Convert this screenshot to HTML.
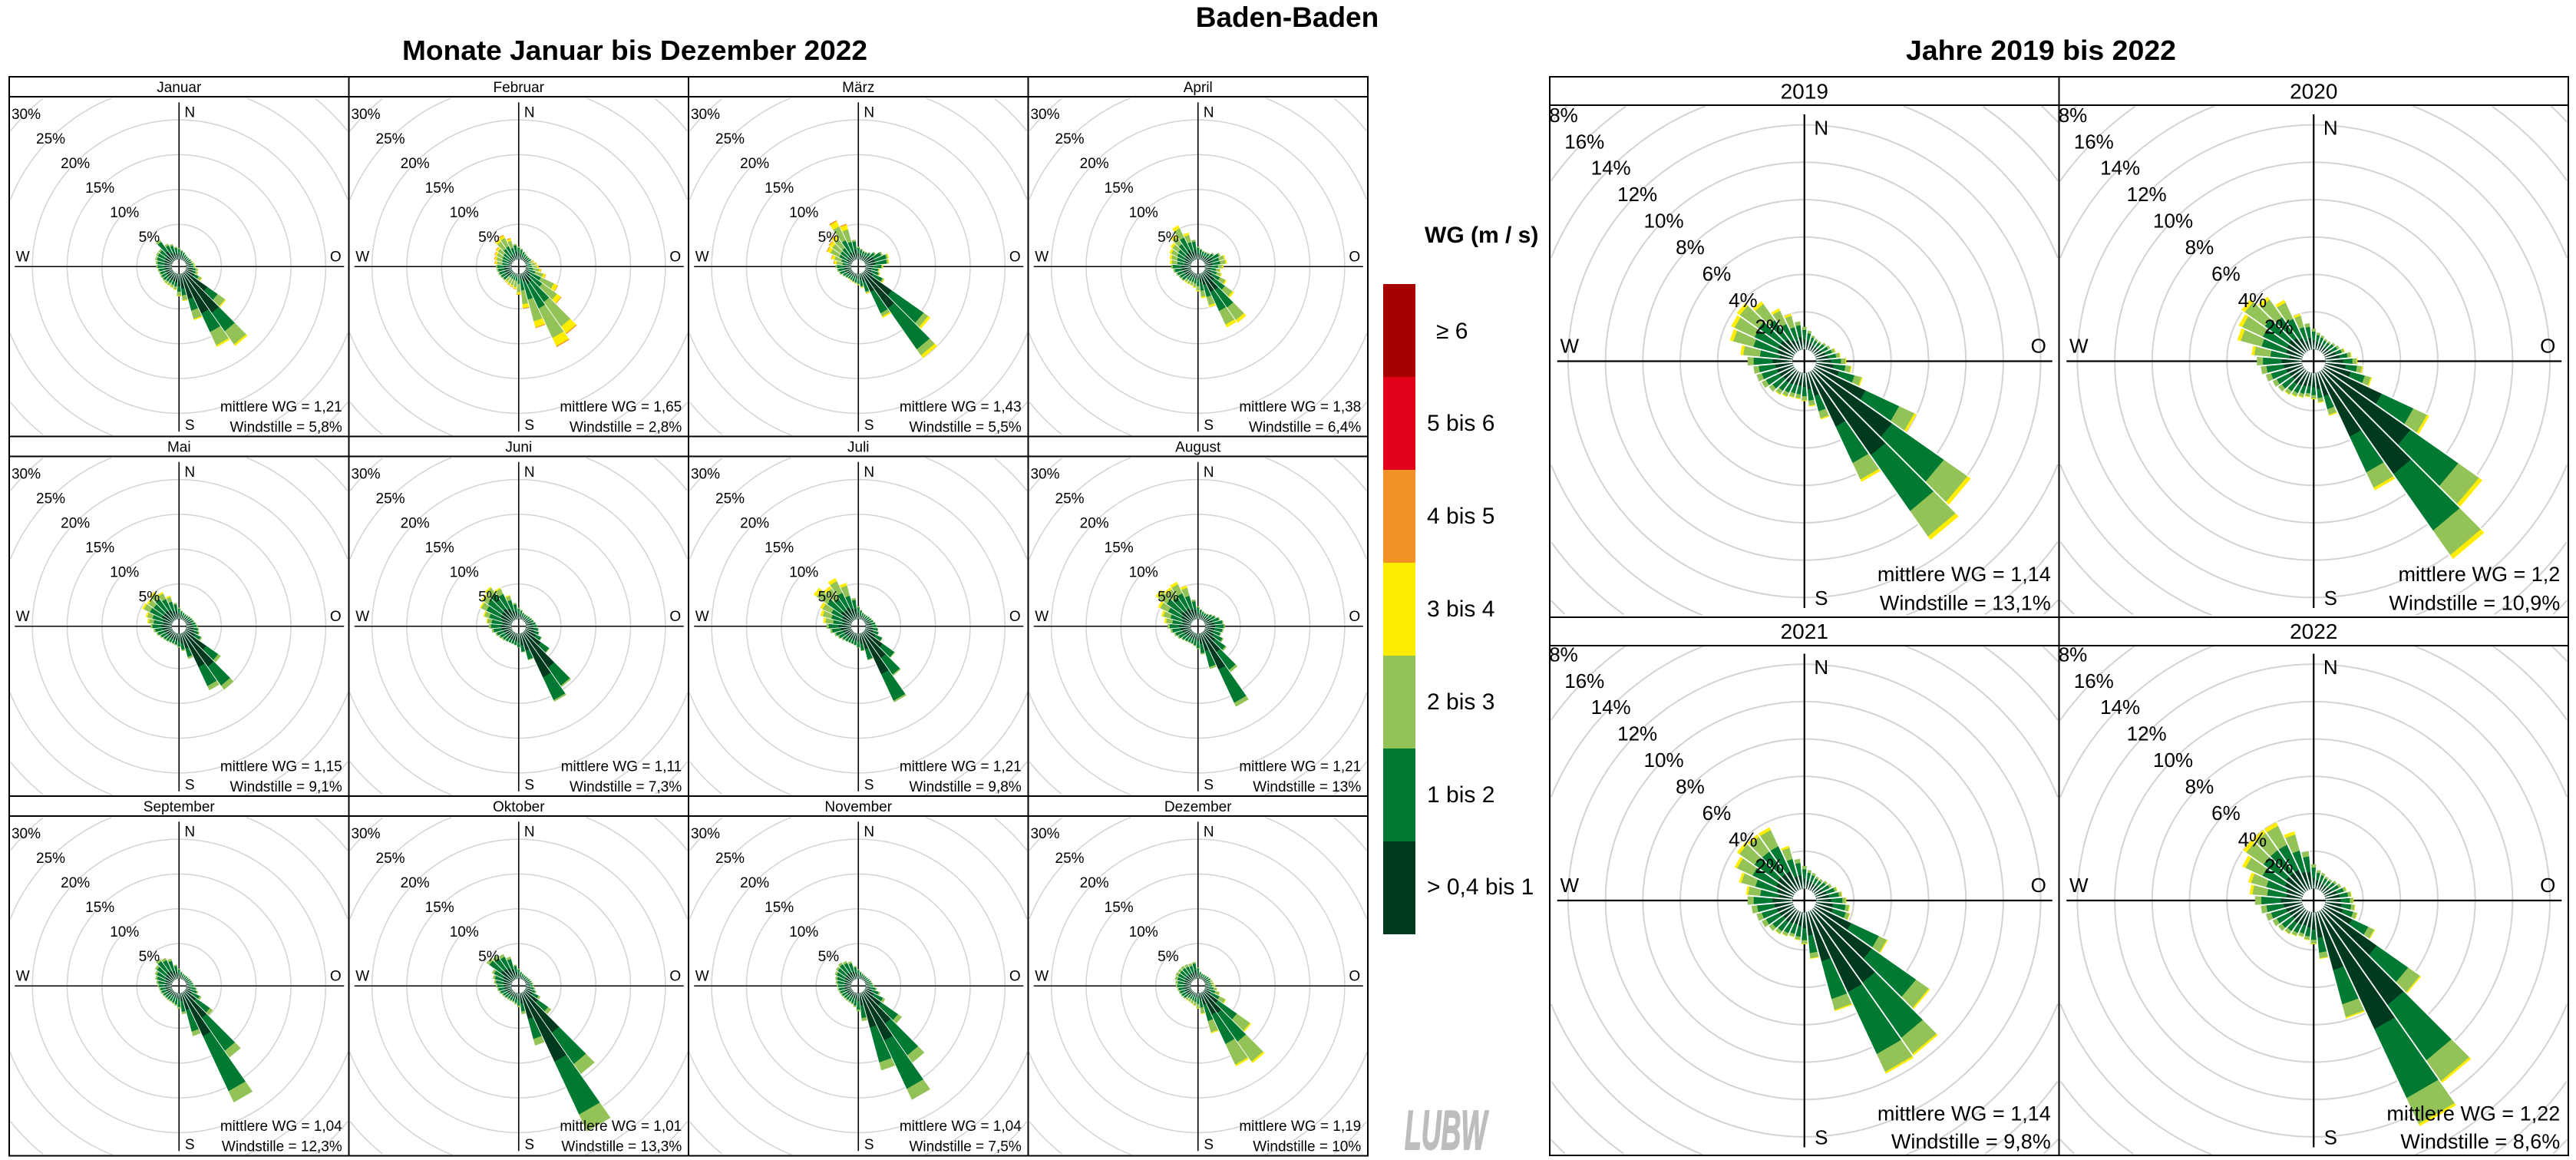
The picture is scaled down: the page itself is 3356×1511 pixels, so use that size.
<!DOCTYPE html>
<html><head><meta charset="utf-8">
<style>
html,body{margin:0;padding:0;background:#fff;width:3356px;height:1511px;overflow:hidden;}
svg{display:block;font-family:"Liberation Sans",Arial,sans-serif;}
.m text{font-size:19px;}
.y text{font-size:26px;}
.y text.st{font-size:27px;}
.y text.hd{font-size:28px;}
.c{text-anchor:middle}
.e{text-anchor:end}
.lg{font-size:30px;}
</style></head><body>
<svg id="s" xmlns="http://www.w3.org/2000/svg" width="3356" height="1511" viewBox="0 0 3356 1511" overflow="hidden">
<defs>
<clipPath id="cy"><rect x="-331.75" y="-333.5" width="663.5" height="665"/></clipPath>
</defs>
<rect width="3356" height="1511" fill="#fff"/>

<text x="1677" y="35" font-size="37" font-weight="bold" text-anchor="middle">Baden-Baden</text>
<text x="524" y="78" font-size="36" font-weight="bold" textLength="606" lengthAdjust="spacingAndGlyphs">Monate Januar bis Dezember 2022</text>
<text x="2483" y="78" font-size="36" font-weight="bold" textLength="352" lengthAdjust="spacingAndGlyphs">Jahre 2019 bis 2022</text>

<!-- Monthly panels -->
<g class="m" id="p0" transform="translate(233.25,347.25)">
<text class="c" x="0" y="-227.45">Januar</text>
<text class="c" x="-38.9" y="-32.1">5%</text><text class="c" x="-71" y="-64.2">10%</text><text class="c" x="-103.1" y="-96.3">15%</text><text class="c" x="-135.1" y="-128.3">20%</text><text class="c" x="-167.2" y="-160.4">25%</text><text class="c" x="-199.3" y="-192.5">30%</text>
<text class="c" x="14" y="-194.8">N</text><text class="c" x="14" y="212.5">S</text><text class="c" x="-203.5" y="-6.7">W</text><text class="c" x="204" y="-6.7">O</text>
<text class="e" x="212.5" y="188.5">mittlere WG = 1,21</text><text class="e" x="212.5" y="215">Windstille = 5,8%</text>
</g>
<g class="m" id="p1" transform="translate(675.75,347.25)">
<text class="c" x="0" y="-227.45">Februar</text>
<text class="c" x="-38.9" y="-32.1">5%</text><text class="c" x="-71" y="-64.2">10%</text><text class="c" x="-103.1" y="-96.3">15%</text><text class="c" x="-135.1" y="-128.3">20%</text><text class="c" x="-167.2" y="-160.4">25%</text><text class="c" x="-199.3" y="-192.5">30%</text>
<text class="c" x="14" y="-194.8">N</text><text class="c" x="14" y="212.5">S</text><text class="c" x="-203.5" y="-6.7">W</text><text class="c" x="204" y="-6.7">O</text>
<text class="e" x="212.5" y="188.5">mittlere WG = 1,65</text><text class="e" x="212.5" y="215">Windstille = 2,8%</text>
</g>
<g class="m" id="p2" transform="translate(1118.25,347.25)">
<text class="c" x="0" y="-227.45">März</text>
<text class="c" x="-38.9" y="-32.1">5%</text><text class="c" x="-71" y="-64.2">10%</text><text class="c" x="-103.1" y="-96.3">15%</text><text class="c" x="-135.1" y="-128.3">20%</text><text class="c" x="-167.2" y="-160.4">25%</text><text class="c" x="-199.3" y="-192.5">30%</text>
<text class="c" x="14" y="-194.8">N</text><text class="c" x="14" y="212.5">S</text><text class="c" x="-203.5" y="-6.7">W</text><text class="c" x="204" y="-6.7">O</text>
<text class="e" x="212.5" y="188.5">mittlere WG = 1,43</text><text class="e" x="212.5" y="215">Windstille = 5,5%</text>
</g>
<g class="m" id="p3" transform="translate(1560.75,347.25)">
<text class="c" x="0" y="-227.45">April</text>
<text class="c" x="-38.9" y="-32.1">5%</text><text class="c" x="-71" y="-64.2">10%</text><text class="c" x="-103.1" y="-96.3">15%</text><text class="c" x="-135.1" y="-128.3">20%</text><text class="c" x="-167.2" y="-160.4">25%</text><text class="c" x="-199.3" y="-192.5">30%</text>
<text class="c" x="14" y="-194.8">N</text><text class="c" x="14" y="212.5">S</text><text class="c" x="-203.5" y="-6.7">W</text><text class="c" x="204" y="-6.7">O</text>
<text class="e" x="212.5" y="188.5">mittlere WG = 1,38</text><text class="e" x="212.5" y="215">Windstille = 6,4%</text>
</g>
<g class="m" id="p4" transform="translate(233.25,815.75)">
<text class="c" x="0" y="-227.45">Mai</text>
<text class="c" x="-38.9" y="-32.1">5%</text><text class="c" x="-71" y="-64.2">10%</text><text class="c" x="-103.1" y="-96.3">15%</text><text class="c" x="-135.1" y="-128.3">20%</text><text class="c" x="-167.2" y="-160.4">25%</text><text class="c" x="-199.3" y="-192.5">30%</text>
<text class="c" x="14" y="-194.8">N</text><text class="c" x="14" y="212.5">S</text><text class="c" x="-203.5" y="-6.7">W</text><text class="c" x="204" y="-6.7">O</text>
<text class="e" x="212.5" y="188.5">mittlere WG = 1,15</text><text class="e" x="212.5" y="215">Windstille = 9,1%</text>
</g>
<g class="m" id="p5" transform="translate(675.75,815.75)">
<text class="c" x="0" y="-227.45">Juni</text>
<text class="c" x="-38.9" y="-32.1">5%</text><text class="c" x="-71" y="-64.2">10%</text><text class="c" x="-103.1" y="-96.3">15%</text><text class="c" x="-135.1" y="-128.3">20%</text><text class="c" x="-167.2" y="-160.4">25%</text><text class="c" x="-199.3" y="-192.5">30%</text>
<text class="c" x="14" y="-194.8">N</text><text class="c" x="14" y="212.5">S</text><text class="c" x="-203.5" y="-6.7">W</text><text class="c" x="204" y="-6.7">O</text>
<text class="e" x="212.5" y="188.5">mittlere WG = 1,11</text><text class="e" x="212.5" y="215">Windstille = 7,3%</text>
</g>
<g class="m" id="p6" transform="translate(1118.25,815.75)">
<text class="c" x="0" y="-227.45">Juli</text>
<text class="c" x="-38.9" y="-32.1">5%</text><text class="c" x="-71" y="-64.2">10%</text><text class="c" x="-103.1" y="-96.3">15%</text><text class="c" x="-135.1" y="-128.3">20%</text><text class="c" x="-167.2" y="-160.4">25%</text><text class="c" x="-199.3" y="-192.5">30%</text>
<text class="c" x="14" y="-194.8">N</text><text class="c" x="14" y="212.5">S</text><text class="c" x="-203.5" y="-6.7">W</text><text class="c" x="204" y="-6.7">O</text>
<text class="e" x="212.5" y="188.5">mittlere WG = 1,21</text><text class="e" x="212.5" y="215">Windstille = 9,8%</text>
</g>
<g class="m" id="p7" transform="translate(1560.75,815.75)">
<text class="c" x="0" y="-227.45">August</text>
<text class="c" x="-38.9" y="-32.1">5%</text><text class="c" x="-71" y="-64.2">10%</text><text class="c" x="-103.1" y="-96.3">15%</text><text class="c" x="-135.1" y="-128.3">20%</text><text class="c" x="-167.2" y="-160.4">25%</text><text class="c" x="-199.3" y="-192.5">30%</text>
<text class="c" x="14" y="-194.8">N</text><text class="c" x="14" y="212.5">S</text><text class="c" x="-203.5" y="-6.7">W</text><text class="c" x="204" y="-6.7">O</text>
<text class="e" x="212.5" y="188.5">mittlere WG = 1,21</text><text class="e" x="212.5" y="215">Windstille = 13%</text>
</g>
<g class="m" id="p8" transform="translate(233.25,1284.25)">
<text class="c" x="0" y="-227.45">September</text>
<text class="c" x="-38.9" y="-32.1">5%</text><text class="c" x="-71" y="-64.2">10%</text><text class="c" x="-103.1" y="-96.3">15%</text><text class="c" x="-135.1" y="-128.3">20%</text><text class="c" x="-167.2" y="-160.4">25%</text><text class="c" x="-199.3" y="-192.5">30%</text>
<text class="c" x="14" y="-194.8">N</text><text class="c" x="14" y="212.5">S</text><text class="c" x="-203.5" y="-6.7">W</text><text class="c" x="204" y="-6.7">O</text>
<text class="e" x="212.5" y="188.5">mittlere WG = 1,04</text><text class="e" x="212.5" y="215">Windstille = 12,3%</text>
</g>
<g class="m" id="p9" transform="translate(675.75,1284.25)">
<text class="c" x="0" y="-227.45">Oktober</text>
<text class="c" x="-38.9" y="-32.1">5%</text><text class="c" x="-71" y="-64.2">10%</text><text class="c" x="-103.1" y="-96.3">15%</text><text class="c" x="-135.1" y="-128.3">20%</text><text class="c" x="-167.2" y="-160.4">25%</text><text class="c" x="-199.3" y="-192.5">30%</text>
<text class="c" x="14" y="-194.8">N</text><text class="c" x="14" y="212.5">S</text><text class="c" x="-203.5" y="-6.7">W</text><text class="c" x="204" y="-6.7">O</text>
<text class="e" x="212.5" y="188.5">mittlere WG = 1,01</text><text class="e" x="212.5" y="215">Windstille = 13,3%</text>
</g>
<g class="m" id="p10" transform="translate(1118.25,1284.25)">
<text class="c" x="0" y="-227.45">November</text>
<text class="c" x="-38.9" y="-32.1">5%</text><text class="c" x="-71" y="-64.2">10%</text><text class="c" x="-103.1" y="-96.3">15%</text><text class="c" x="-135.1" y="-128.3">20%</text><text class="c" x="-167.2" y="-160.4">25%</text><text class="c" x="-199.3" y="-192.5">30%</text>
<text class="c" x="14" y="-194.8">N</text><text class="c" x="14" y="212.5">S</text><text class="c" x="-203.5" y="-6.7">W</text><text class="c" x="204" y="-6.7">O</text>
<text class="e" x="212.5" y="188.5">mittlere WG = 1,04</text><text class="e" x="212.5" y="215">Windstille = 7,5%</text>
</g>
<g class="m" id="p11" transform="translate(1560.75,1284.25)">
<text class="c" x="0" y="-227.45">Dezember</text>
<text class="c" x="-38.9" y="-32.1">5%</text><text class="c" x="-71" y="-64.2">10%</text><text class="c" x="-103.1" y="-96.3">15%</text><text class="c" x="-135.1" y="-128.3">20%</text><text class="c" x="-167.2" y="-160.4">25%</text><text class="c" x="-199.3" y="-192.5">30%</text>
<text class="c" x="14" y="-194.8">N</text><text class="c" x="14" y="212.5">S</text><text class="c" x="-203.5" y="-6.7">W</text><text class="c" x="204" y="-6.7">O</text>
<text class="e" x="212.5" y="188.5">mittlere WG = 1,19</text><text class="e" x="212.5" y="215">Windstille = 10%</text>
</g>

<!-- Yearly panels -->
<g class="y" id="q0" transform="translate(2350.75,470.5)">
<text class="c hd" x="0" y="-342">2019</text>
<g clip-path="url(#cy)"><text class="c" x="-45.5" y="-36.2">2%</text><text class="c" x="-79.9" y="-70.6">4%</text><text class="c" x="-114.3" y="-105">6%</text><text class="c" x="-148.8" y="-139.5">8%</text><text class="c" x="-183.2" y="-173.9">10%</text><text class="c" x="-217.6" y="-208.3">12%</text><text class="c" x="-252.1" y="-242.8">14%</text><text class="c" x="-286.5" y="-277.2">16%</text><text class="c" x="-321" y="-311.7">18%</text></g>
<text class="c" x="22" y="-295.2">N</text><text class="c" x="22" y="317.3">S</text><text class="c" x="-306" y="-11.2">W</text><text class="c" x="305" y="-11.2">O</text>
<text class="e st" x="321" y="286.5">mittlere WG = 1,14</text><text class="e st" x="321" y="324">Windstille = 13,1%</text>
</g>
<g class="y" id="q1" transform="translate(3014.25,470.5)">
<text class="c hd" x="0" y="-342">2020</text>
<g clip-path="url(#cy)"><text class="c" x="-45.5" y="-36.2">2%</text><text class="c" x="-79.9" y="-70.6">4%</text><text class="c" x="-114.3" y="-105">6%</text><text class="c" x="-148.8" y="-139.5">8%</text><text class="c" x="-183.2" y="-173.9">10%</text><text class="c" x="-217.6" y="-208.3">12%</text><text class="c" x="-252.1" y="-242.8">14%</text><text class="c" x="-286.5" y="-277.2">16%</text><text class="c" x="-321" y="-311.7">18%</text></g>
<text class="c" x="22" y="-295.2">N</text><text class="c" x="22" y="317.3">S</text><text class="c" x="-306" y="-11.2">W</text><text class="c" x="305" y="-11.2">O</text>
<text class="e st" x="321" y="286.5">mittlere WG = 1,2</text><text class="e st" x="321" y="324">Windstille = 10,9%</text>
</g>
<g class="y" id="q2" transform="translate(2350.75,1173)">
<text class="c hd" x="0" y="-341">2021</text>
<g clip-path="url(#cy)"><text class="c" x="-45.5" y="-36.2">2%</text><text class="c" x="-79.9" y="-70.6">4%</text><text class="c" x="-114.3" y="-105">6%</text><text class="c" x="-148.8" y="-139.5">8%</text><text class="c" x="-183.2" y="-173.9">10%</text><text class="c" x="-217.6" y="-208.3">12%</text><text class="c" x="-252.1" y="-242.8">14%</text><text class="c" x="-286.5" y="-277.2">16%</text><text class="c" x="-321" y="-311.7">18%</text></g>
<text class="c" x="22" y="-295.2">N</text><text class="c" x="22" y="317.3">S</text><text class="c" x="-306" y="-11.2">W</text><text class="c" x="305" y="-11.2">O</text>
<text class="e st" x="321" y="286.5">mittlere WG = 1,14</text><text class="e st" x="321" y="323">Windstille = 9,8%</text>
</g>
<g class="y" id="q3" transform="translate(3014.25,1173)">
<text class="c hd" x="0" y="-341">2022</text>
<g clip-path="url(#cy)"><text class="c" x="-45.5" y="-36.2">2%</text><text class="c" x="-79.9" y="-70.6">4%</text><text class="c" x="-114.3" y="-105">6%</text><text class="c" x="-148.8" y="-139.5">8%</text><text class="c" x="-183.2" y="-173.9">10%</text><text class="c" x="-217.6" y="-208.3">12%</text><text class="c" x="-252.1" y="-242.8">14%</text><text class="c" x="-286.5" y="-277.2">16%</text><text class="c" x="-321" y="-311.7">18%</text></g>
<text class="c" x="22" y="-295.2">N</text><text class="c" x="22" y="317.3">S</text><text class="c" x="-306" y="-11.2">W</text><text class="c" x="305" y="-11.2">O</text>
<text class="e st" x="321" y="286.5">mittlere WG = 1,22</text><text class="e st" x="321" y="323">Windstille = 8,6%</text>
</g>

<!-- Grid borders -->
<g fill="none" stroke="#000" stroke-width="2">
<rect x="12" y="100" width="1770" height="1405.5"/>
<line x1="454.5" y1="100" x2="454.5" y2="1505.5"/>
<line x1="897" y1="100" x2="897" y2="1505.5"/>
<line x1="1339.5" y1="100" x2="1339.5" y2="1505.5"/>
<line x1="12" y1="126" x2="1782" y2="126"/>
<line x1="12" y1="568.5" x2="1782" y2="568.5"/>
<line x1="12" y1="594.5" x2="1782" y2="594.5"/>
<line x1="12" y1="1037" x2="1782" y2="1037"/>
<line x1="12" y1="1063" x2="1782" y2="1063"/>
<rect x="2019" y="100" width="1327" height="1405"/>
<line x1="2682.5" y1="100" x2="2682.5" y2="1505"/>
<line x1="2019" y1="137" x2="3346" y2="137"/>
<line x1="2019" y1="804" x2="3346" y2="804"/>
<line x1="2019" y1="841" x2="3346" y2="841"/>
</g>

<!-- Legend -->
<text x="1856" y="316" font-size="30" font-weight="bold">WG (m / s)</text>
<rect x="1802" y="370" width="42" height="121" fill="#a80000"/>
<rect x="1802" y="491" width="42" height="121" fill="#e2001a"/>
<rect x="1802" y="612" width="42" height="121" fill="#f29226"/>
<rect x="1802" y="733" width="42" height="121" fill="#ffed00"/>
<rect x="1802" y="854" width="42" height="121" fill="#93c356"/>
<rect x="1802" y="975" width="42" height="121" fill="#007a33"/>
<rect x="1802" y="1096" width="42" height="121" fill="#003a1e"/>
<text class="lg" x="1871" y="441">≥ 6</text>
<text class="lg" x="1859" y="561">5 bis 6</text>
<text class="lg" x="1859" y="682">4 bis 5</text>
<text class="lg" x="1859" y="803">3 bis 4</text>
<text class="lg" x="1859" y="924">2 bis 3</text>
<text class="lg" x="1859" y="1045">1 bis 2</text>
<text class="lg" x="1859" y="1165">&gt; 0,4 bis 1</text>

<!-- Logo -->
<text x="1830" y="1497" font-size="72" font-weight="bold" font-style="italic" fill="#bdbdbd" stroke="#bdbdbd" stroke-width="2" textLength="107" lengthAdjust="spacingAndGlyphs">LUBW</text>
</svg>

<script>
(function(){
var NS="http://www.w3.org/2000/svg";
var COL=["#003a1e","#007a33","#93c356","#ffed00","#f39024"];
function el(n,a,p){var e=document.createElementNS(NS,n);for(var k in a)e.setAttribute(k,a[k]);p.appendChild(e);return e;}
function f(v){return v.toFixed(2);}
function ringPath(R,hw,y1,y2){
  var N=Math.max(120,Math.ceil(2*Math.PI*R/2)), d="", prev=false;
  for(var j=0;j<=N;j++){
    var a=j/N*2*Math.PI, x=R*Math.sin(a), y=-R*Math.cos(a);
    var ins=(x>=-hw&&x<=hw&&y>=y1&&y<=y2);
    if(ins){ d+=(prev?"L":"M")+f(x)+","+f(y); }
    prev=ins;
  }
  return d;
}
function draw(id,big,tot,se,nw){
  var g=document.getElementById(id);
  var r=document.createElementNS(NS,"g");
  g.insertBefore(r,g.firstChild);
  var off=big?15.6:9.7, k=big?24.35:9.07;
  var sm=big?[.45,.42,.13,0]:[.5,.42,.08,0];
  var hw=big?330.5:220.2, y1=big?-332.5:-220.2, y2=big?331:220.2;
  var rings=big?[2,4,6,8,10,12,14,16,18,20]:[5,10,15,20,25,30,35];
  rings.forEach(function(p){
    var d=ringPath(off+k*p,hw,y1,y2);
    if(d) el("path",{d:d,fill:"none",stroke:"#d3d3d3","stroke-width":big?2:1.5},r);
  });
  if(big){
    el("line",{x1:0,y1:-321.5,x2:0,y2:321.5,stroke:"#000","stroke-width":2.2},r);
    el("line",{x1:-322,y1:0,x2:323,y2:0,stroke:"#000","stroke-width":2.2},r);
  } else {
    el("line",{x1:0,y1:-214,x2:0,y2:215,stroke:"#000","stroke-width":1.6},r);
    el("line",{x1:-214,y1:0,x2:215,y2:0,stroke:"#000","stroke-width":1.6},r);
  }
  var pg=el("g",{},r);
  var R=[];
  for(var i=0;i<36;i++){
    var d=(i+1)*10, t=tot[i];
    var comp=(d>=70&&d<=220)?se:((d>=280&&d<=340)?nw:sm);
    var sum=0; for(var b=0;b<comp.length;b++) sum+=comp[b];
    var a1=(d-5)*Math.PI/180, a2=(d+5)*Math.PI/180;
    var s1=Math.sin(a1),c1=Math.cos(a1),s2=Math.sin(a2),c2=Math.cos(a2);
    var acc=0;
    for(var b=0;b<comp.length;b++){
      var p0=acc, p1=acc+comp[b]/sum*t; acc=p1;
      if(p1-p0<0.002) continue;
      var r0=off+k*p0, r1=off+k*p1;
      var pts=[f(r0*s1),f(-r0*c1),f(r1*s1),f(-r1*c1),f(r1*s2),f(-r1*c2),f(r0*s2),f(-r0*c2)];
      el("polygon",{points:pts[0]+","+pts[1]+" "+pts[2]+","+pts[3]+" "+pts[4]+","+pts[5]+" "+pts[6]+","+pts[7],fill:COL[b],stroke:COL[b],"stroke-width":0.4},pg);
    }
    R.push(off+k*t);
  }
  var sw=big?1.8:0.9;
  for(var i=0;i<36;i++){
    var d=(i+1)*10+5, a=d*Math.PI/180;
    var rm=Math.max(R[i],R[(i+1)%36])+1;
    el("line",{x1:f(off*Math.sin(a)),y1:f(-off*Math.cos(a)),x2:f(rm*Math.sin(a)),y2:f(-rm*Math.cos(a)),stroke:"#fff","stroke-width":sw},pg);
  }
}
var M=[
 ["p0",[1.3,1.1,0.9,0.8,0.8,0.9,1.0,1.2,1.3,1.7,1.8,2.6,7.2,12.9,11.7,6.9,3.9,3.2,2.3,2.1,2.0,2.0,1.9,1.9,1.9,2.0,2.2,2.3,2.5,2.6,2.6,3.7,2.6,2.3,1.8,1.6],[.55,.25,.18,.02],[.45,.45,.1,0]],
 ["p1",[1.5,1.2,1.0,0.9,0.9,1.0,1.2,1.5,1.8,2.2,3.0,5.2,6.5,10.8,11.7,8.1,5.0,3.0,2.2,2.0,1.9,1.8,1.8,1.9,2.0,2.1,2.2,2.4,2.6,2.8,3.0,3.8,4.0,3.2,2.2,1.8],[.15,.33,.4,.11,.01],[.2,.35,.33,.1,.02]],
 ["p2",[1.5,1.3,1.3,1.5,2.0,2.8,3.5,3.4,2.5,2.0,2.2,3.1,11.6,15.0,7.1,3.0,2.0,1.6,1.4,1.3,1.2,1.2,1.3,1.5,1.8,2.0,2.2,2.5,3.0,4.0,4.2,4.5,6.3,5.3,2.8,1.8],[.42,.48,.07,.03],[.2,.3,.35,.13,.02]],
 ["p3",[1.5,1.3,1.3,1.4,1.8,2.5,3.0,3.1,2.6,2.2,2.5,3.5,5.3,8.8,8.6,5.0,3.5,2.5,2.0,1.8,1.8,1.8,1.9,2.0,2.2,2.5,2.8,3.0,3.2,3.5,3.8,4.5,5.5,4.0,2.8,1.8],[.35,.35,.25,.05],[.3,.35,.27,.08]],
 ["p4",[1.2,1.0,0.9,0.9,1.0,1.1,1.2,1.4,1.6,1.8,2.0,2.6,6.3,10.1,9.1,3.8,2.5,2.0,1.7,1.6,1.6,1.7,1.8,2.0,2.3,2.6,3.0,3.5,3.9,4.8,4.6,5.0,4.4,3.5,2.3,1.6],[.6,.33,.07,0],[.35,.4,.2,.05]],
 ["p5",[1.3,1.0,0.9,0.9,1.0,1.1,1.2,1.4,1.6,1.8,2.0,2.6,4.4,9.6,10.9,4.0,2.7,2.0,1.7,1.6,1.6,1.7,1.9,2.1,2.4,2.8,3.2,3.6,4.2,5.1,5.5,5.9,5.1,3.6,2.3,1.6],[.65,.33,.02,0],[.35,.45,.17,.03]],
 ["p6",[1.3,1.0,0.9,0.9,1.0,1.1,1.2,1.4,1.6,1.8,2.0,2.8,5.4,7.6,11.0,4.0,2.5,2.0,1.7,1.6,1.6,1.7,1.9,2.2,2.5,3.0,3.5,4.0,4.6,5.0,6.8,6.0,6.6,5.4,3.0,1.8],[.6,.38,.02,0],[.3,.35,.28,.07]],
 ["p7",[1.4,1.2,1.1,1.2,1.5,1.8,2.2,2.6,2.8,2.6,2.4,3.0,4.0,7.0,11.7,5.3,3.0,2.2,1.8,1.6,1.6,1.7,1.9,2.2,2.5,2.9,3.3,3.8,4.4,5.3,6.4,5.8,6.0,5.0,2.8,1.8],[.5,.45,.05,0],[.3,.4,.24,.06]],
 ["p8",[1.0,0.8,0.7,0.7,0.7,0.8,0.9,1.0,1.2,1.5,1.8,2.5,4.9,11.5,17.4,6.4,3.0,2.2,1.8,1.6,1.5,1.5,1.5,1.6,1.7,1.8,2.0,2.2,2.5,2.8,3.2,3.7,3.4,3.0,2.0,1.4],[.4,.5,.1,0],[.4,.5,.1,0]],
 ["p9",[1.0,0.8,0.7,0.7,0.7,0.8,0.9,1.0,1.1,1.3,1.6,2.4,4.7,14.4,22.0,7.8,3.0,2.0,1.6,1.4,1.4,1.4,1.5,1.6,1.8,2.0,2.2,2.5,2.8,3.2,4.6,4.3,4.0,3.3,2.0,1.4],[.5,.38,.12,0],[.45,.45,.1,0]],
 ["p10",[1.0,0.8,0.7,0.7,0.7,0.8,0.9,1.0,1.2,1.6,2.2,3.2,6.6,12.4,17.0,11.5,4.0,2.6,2.0,1.7,1.6,1.6,1.6,1.7,1.8,1.9,2.0,2.2,2.4,2.7,2.9,3.1,2.9,2.6,1.8,1.3],[.45,.45,.1,0],[.4,.5,.1,0]],
 ["p11",[1.0,0.8,0.8,0.8,0.9,1.0,1.1,1.2,1.4,1.7,2.2,3.4,8.3,12.5,11.7,6.0,3.0,2.2,1.8,1.6,1.5,1.5,1.6,1.7,1.8,1.9,2.1,2.2,2.4,2.5,2.5,2.5,2.4,2.3,2.4,1.6],[.3,.4,.28,.02],[.4,.45,.15,0]]
];
M.forEach(function(m){draw(m[0],false,m[1],m[2],m[3]);});
var Y=[
 ["q0",[1.0,0.8,0.7,0.7,0.8,0.9,1.1,1.3,1.6,1.9,2.6,6.0,10.25,11.06,6.5,2.6,1.8,1.5,1.4,1.4,1.5,1.6,1.7,1.9,2.0,2.1,2.4,2.8,3.5,3.7,3.8,3.3,2.5,2.0,1.5,1.2],[.5,.33,.15,.02],[.25,.38,.32,.05]],
 ["q1",[0.9,0.8,0.7,0.7,0.8,0.9,1.1,1.4,1.7,2.0,2.6,6.2,10.4,12.3,7.0,2.4,1.6,1.4,1.3,1.4,1.5,1.6,1.7,1.8,2.0,2.2,2.4,2.7,3.6,3.8,4.1,3.6,3.0,2.0,1.4,1.1],[.55,.3,.13,.02],[.25,.38,.32,.05]],
 ["q2",[1.0,0.9,0.8,0.8,0.9,1.0,1.2,1.4,1.6,1.8,1.9,4.3,7.6,9.5,9.6,5.5,2.5,1.7,1.5,1.4,1.5,1.6,1.7,1.9,2.0,2.2,2.4,2.5,3.0,3.5,3.8,3.7,3.7,2.4,1.6,1.2],[.5,.38,.11,.01],[.3,.4,.26,.04]],
 ["q3",[1.0,0.9,0.8,0.8,0.9,1.0,1.2,1.4,1.5,1.6,1.8,3.0,6.4,11.3,12.7,5.9,2.5,1.7,1.5,1.4,1.5,1.6,1.7,1.8,2.0,2.2,2.5,2.8,3.0,3.6,4.0,4.0,4.0,3.2,2.0,1.3],[.55,.32,.12,.01],[.3,.37,.28,.05]]
];
Y.forEach(function(m){draw(m[0],true,m[1],m[2],m[3]);});
})();
</script>
</body></html>
